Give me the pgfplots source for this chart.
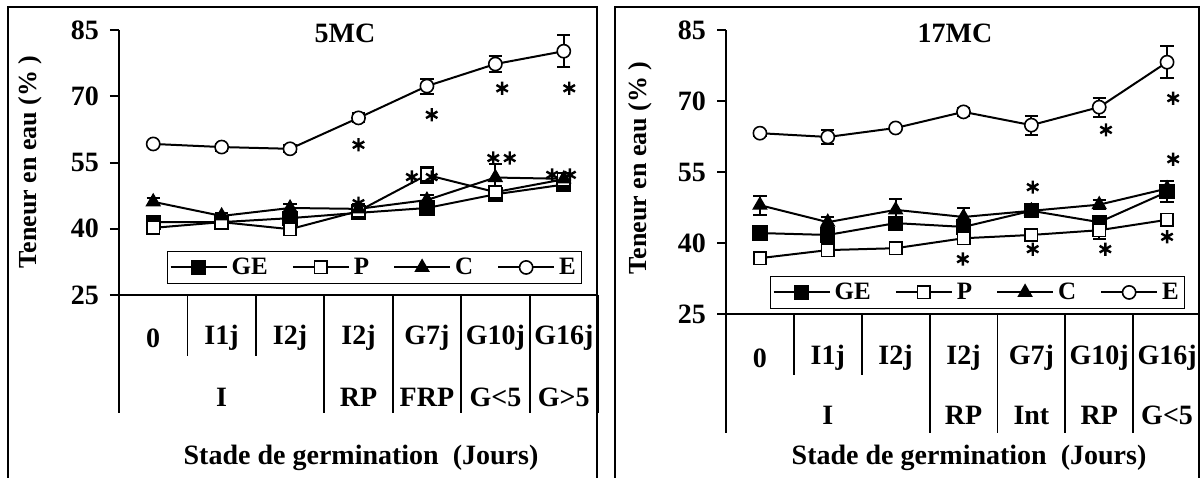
\documentclass[border=0pt]{standalone}
\usepackage{fontspec}
\setmainfont{Liberation Serif}
\usepackage{pgfplots}
\pgfplotsset{compat=1.18}
\usepackage{pgfplotstable}

% 5MC
\pgfplotstableread{
x GE GEe P Pe C Ce E Ee
1 41.5 0.6 40.2 1.2 46.1 0.8 59.2 0.5
2 41.5 0.5 41.5 0.5 42.9 0.7 58.5 0.8
3 42.4 0.8 39.9 0.7 44.7 1.0 58.1 0.8
4 43.6 0.6 44.0 0.6 44.5 1.0 65.1 1.0
5 44.7 0.8 52.2 1.8 46.5 1.2 72.3 1.7
6 47.8 0.8 48.3 1.0 51.6 3.0 77.3 1.9
7 50.0 1.5 51.2 0.8 51.3 0.8 80.2 3.6
}\mcfive

% 17MC
\pgfplotstableread{
x GE GEe P Pe C Ce E Ee
1 42.1 0.5 36.8 0.5 48.0 2.0 63.2 0.5
2 41.7 0.8 38.5 0.5 44.4 1.0 62.4 1.5
3 44.2 0.8 38.9 0.5 47.0 2.2 64.3 0.5
4 43.4 1.0 41.0 0.8 45.5 2.0 67.7 0.9
5 46.8 0.8 41.7 0.8 46.8 0.8 64.9 2.0
6 44.4 0.8 42.7 1.9 48.1 1.0 68.7 2.0
7 50.8 2.2 44.9 1.0 51.5 0.8 78.2 3.4
}\mcseventeen

\newcommand{\lab}{\fontsize{14}{16}\selectfont\bfseries}
\newcommand{\ylab}{\fontsize{13}{15}\selectfont\bfseries}

\pgfplotsset{
  germ/.style={
    scale only axis, xmin=0.5, xmax=7.5, ymin=25, ymax=85,
    ytick={25,40,55,70,85}, xtick=\empty,
    axis x line*=bottom, axis y line*=left,
    axis line style={line width=1pt,-},
    tick align=outside, major tick length=4.5pt,
    ytick style={line width=1pt, black},
    /pgf/number format/assume math mode=true,
    yticklabel style={font=\lab, xshift=-2pt},
    clip=false,
    legend columns=4,
    legend style={draw=black, line width=0.6pt, anchor=center,
      font=\fontsize{12.5}{14}\selectfont\bfseries, inner sep=1pt,
      /tikz/every even column/.append style={column sep=10pt}},
    legend image code/.code={\draw[mark repeat=2,mark phase=2,##1]
      plot coordinates {(0pt,0pt) (14pt,0pt) (28pt,0pt)};},
  },
  bars/.style={error bars/.cd, y dir=both, y explicit,
    error bar style={line width=1pt},
    error mark options={rotate=90, mark size=3.3pt, line width=1pt}},
  ge/.style={black, line width=1pt, mark=square*, mark size=3.4pt,
    mark options={fill=black, line width=0.8pt}},
  pp/.style={black, line width=1pt, mark=square*, mark size=3.1pt,
    mark options={fill=white, line width=0.8pt}},
  cc/.style={black, line width=1pt, mark=triangle*, mark size=3.7pt,
    mark options={fill=black, line width=0.8pt}},
  ee/.style={black, line width=1pt, mark=*, mark size=3.3pt,
    mark options={fill=white, line width=0.8pt}},
  star/.style={black, only marks, mark=asterisk, mark size=3.3pt,
    mark options={line width=1.2pt}, forget plot},
}

\begin{document}
\begin{tikzpicture}
\useasboundingbox (0,0) rectangle (600pt,238.5pt);
\clip (0,0) rectangle (600pt,238.5pt);

% left panel
\begin{axis}[germ, at={(59.5pt,91pt)}, anchor=south west,
  width=239.5pt, height=132.5pt, legend style={at={(0.534,0.104)}}]
\addplot[ge, bars] table[x=x, y=GE, y error=GEe] {\mcfive};
\addplot[pp, bars] table[x=x, y=P, y error=Pe] {\mcfive};
\addplot[cc, bars] table[x=x, y=C, y error=Ce] {\mcfive};
\addplot[ee, bars] table[x=x, y=E, y error=Ee] {\mcfive};
\addplot[star] coordinates {(4.0,59.0) (5.07,65.8) (6.1,71.8) (7.08,71.8)
  (4.78,51.7) (5.07,51.7) (5.97,56.0) (6.21,56.0) (6.83,52.2) (7.09,52.2) (4.0,45.8)};
\legend{GE,P,C,E}
\end{axis}

% right panel
\begin{axis}[germ, at={(363pt,81.5pt)}, anchor=south west,
  width=237.5pt, height=142pt, legend style={at={(0.53,0.076)}}]
\addplot[ge, bars] table[x=x, y=GE, y error=GEe] {\mcseventeen};
\addplot[pp, bars] table[x=x, y=P, y error=Pe] {\mcseventeen};
\addplot[cc, bars] table[x=x, y=C, y error=Ce] {\mcseventeen};
\addplot[ee, bars] table[x=x, y=E, y error=Ee] {\mcseventeen};
\addplot[star] coordinates {(6.1,63.9) (7.09,70.6) (7.09,57.7) (5.02,51.8)
  (3.99,36.6) (5.02,38.7) (6.09,38.7) (7.0,41.3)};
\legend{GE,P,C,E}
\end{axis}

% frames, category table and labels (pixel units, y downwards)
\begin{scope}[x=0.5pt, y=-0.5pt, shift={(0pt,238.5pt)}]
\draw[line width=0.6pt] (8,7) rectangle (597,490);
\draw[line width=0.6pt] (615,7) rectangle (1199,490);

\node[rotate=90, font=\ylab] at (30,162) {Teneur en eau (\% )};
\node[rotate=90, font=\ylab] at (640,168) {Teneur en eau (\% )};
\node[font=\lab] at (345,33) {5MC};
\node[font=\lab] at (955,33) {17MC};

\draw[line width=0.9pt] (187.4,295) -- (187.4,356) (255.9,295) -- (255.9,356);
\foreach \x in {119,324.3,392.7,461.2,529.6,598}
  \draw[line width=0.9pt] (\x,295) -- (\x,413);
\draw[line width=0.9pt] (793.9,314) -- (793.9,375) (861.7,314) -- (861.7,375);
\foreach \x in {726,929.6,997.4,1065.3,1133.2,1200}
  \draw[line width=0.9pt] (\x,314) -- (\x,433);

\foreach \x/\t in {153.2/0, 221.6/I1j, 290.1/I2j, 358.5/I2j, 426.9/G7j, 495.4/G10j, 563.8/G16j}
  \node[font=\lab] at (\x,338) {\t};
\foreach \x/\t in {221.6/I, 358.5/RP, 426.9/FRP, 495.4/G<5, 563.8/G>5}
  \node[font=\lab] at (\x,397) {\t};
\foreach \x/\t in {759.9/0, 827.8/I1j, 895.6/I2j, 963.5/I2j, 1031.4/G7j, 1099.2/G10j, 1167.1/G16j}
  \node[font=\lab] at (\x,358) {\t};
\foreach \x/\t in {827.8/I, 963.5/RP, 1031.4/Int, 1099.2/RP, 1167.1/G<5}
  \node[font=\lab] at (\x,415) {\t};

\node[font=\lab] at (361,458) {Stade de germination~ (Jours)};
\node[font=\lab] at (969,458) {Stade de germination~ (Jours)};
\end{scope}
\end{tikzpicture}
\end{document}
